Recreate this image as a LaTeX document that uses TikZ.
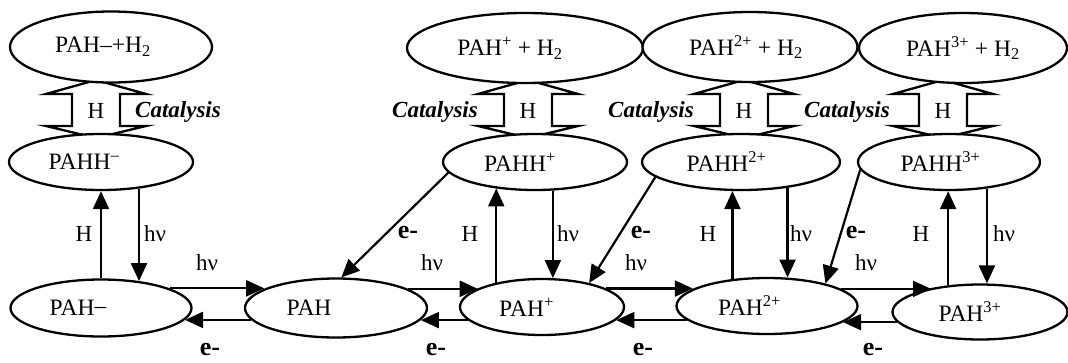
\documentclass[tikz,border=0pt]{standalone}
\usepackage{fontspec}
\setmainfont{Liberation Serif}
\usetikzlibrary{arrows.meta,shapes.geometric}

\tikzset{
  species/.style={draw, ellipse, line width=2.3pt, fill=white, inner sep=0pt,
    font=\fontsize{23.5}{26}\selectfont},
  arr/.style={line width=2.2pt, -{Triangle[length=18pt,width=16pt]}},
  lbl/.style={font=\fontsize{23}{26}\selectfont, inner sep=0pt},
  elbl/.style={font=\fontsize{26}{28}\selectfont\bfseries, inner sep=0pt},
  cat/.style={font=\fontsize{23}{26}\selectfont\bfseries\itshape, inner sep=0pt},
  dbl/.pic={
    \draw[line width=2.3pt, line join=miter]
      (0,-31) -- (-50,-17) -- (-24,-17) -- (-24,15) -- (-50,15) -- (0,27)
      -- (50,15) -- (24,15) -- (24,-17) -- (50,-17) -- cycle;
  }
}
\newcommand{\pad}[1]{\hspace*{#1pt}}

\begin{document}
\begin{tikzpicture}[x=1pt,y=-1pt]
\useasboundingbox (0,0) rectangle (1068,362);

% hollow double arrows (hydrogenation / catalysis)
\coordinate (k0) at (96,111);
\coordinate (k1) at (528,111);
\coordinate (k2) at (744,111);
\coordinate (k3) at (943,111);
\pic at (k0) {dbl};
\pic at (k1) {dbl};
\pic at (k2) {dbl};
\pic at (k3) {dbl};

% top row
\node[species, minimum width=202pt, minimum height=71pt] (t0) at (111,47) {PAH–+H\textsubscript{2}\pad{16}};
\node[species, minimum width=236pt, minimum height=70pt] (t1) at (525,48) {PAH\textsuperscript{+} + H\textsubscript{2}\pad{30}};
\node[species, minimum width=215pt, minimum height=70pt] (t2) at (750,47) {PAH\textsuperscript{2+} + H\textsubscript{2}\pad{8}};
\node[species, minimum width=208pt, minimum height=70pt] (t3) at (963,48) {PAH\textsuperscript{3+} + H\textsubscript{2}};

% middle row
\node[species, minimum width=184pt, minimum height=56pt] (m0) at (101,162) {PAHH\textsuperscript{–}\pad{34}};
\node[species, minimum width=184pt, minimum height=56pt] (m1) at (535,162) {PAHH\textsuperscript{+}\pad{30}};
\node[species, minimum width=198pt, minimum height=56pt] (m2) at (741,162) {PAHH\textsuperscript{2+}\pad{29}};
\node[species, minimum width=182pt, minimum height=56pt] (m3) at (949,162) {PAHH\textsuperscript{3+}\pad{17}};

% bottom row
\node[species, minimum width=181pt, minimum height=57pt] (b0) at (101,308) {PAH\raisebox{2pt}{–}\pad{46}};
\node[species, minimum width=182pt, minimum height=59pt] (b1) at (336,308) {PAH\pad{54}};
\node[species, minimum width=164pt, minimum height=56pt] (b2) at (542,307) {PAH\textsuperscript{+}\pad{31}};
\node[species, minimum width=181pt, minimum height=56pt] (b3) at (767,306) {PAH\textsuperscript{2+}\pad{35}};
\node[species, minimum width=175pt, minimum height=55pt] (b4) at (980,312) {PAH\textsuperscript{3+}\pad{20}};

% labels on the double arrows
\node[lbl] (hk0) at (k0) {H};
\node[lbl] (hk1) at (k1) {H};
\node[lbl] (hk2) at (k2) {H};
\node[lbl] (hk3) at (k3) {H};
\node[cat] (c0) at (178,112) {Catalysis};
\node[cat] (c1) at (435,112) {Catalysis};
\node[cat] (c2) at (651,112) {Catalysis};
\node[cat] (c3) at (847,112) {Catalysis};

% hydrogenation (up) and photolysis (down)
\draw[arr] (b0.north) -- (b0.north |- m0.south);
\draw[arr] (m0.-35) -- (m0.-35 |- b0.35);
\draw[arr] (b2.152) -- (b2.152 |- m1.214);
\draw[arr] (m1.-58) -- (m1.-58 |- b2.70);
\draw[arr] (b3.142) -- (b3.142 |- m2.256);
\draw[arr] (m2.-29) -- (m2.-29 |- b3.55);
\draw[arr] (b4.140) -- (b4.140 |- m3.south);
\draw[arr] (m3.-35) -- (m3.-35 |- b4.78);

% electron recombination of hydrogenated cations
\draw[arr] (m1.187) -- (b1.80);
\draw[arr] (m2.190) -- (b2.27);
\draw[arr] (m3.185) -- (b3.21);

% ionisation (forward) and recombination (back)
\draw[arr] (b0.16) -- (b0.16 -| b1.165);
\draw[arr] (b1.188) -- (b1.188 -| b0.-8);
\draw[arr] (b1.15) -- (b1.15 -| b2.164);
\draw[arr] (b2.190) -- (b2.190 -| b1.-8);
\draw[arr] (b2.16) -- (b2.16 -| b3.167);
\draw[arr] (b3.190) -- (b3.190 -| b2.-10);
\draw[arr] (b3.13) -- (b3.13 -| b4.154);
\draw[arr] (b4.187) -- (b4.187 -| b3.-12);

% vertical labels
\node[lbl] (lh0) at (84,234) {H};
\node[lbl] (lh1) at (470,234) {H};
\node[lbl] (lh2) at (708,234) {H};
\node[lbl] (lh3) at (921,234) {H};
\node[lbl] (lv0) at (155,234) {hν};
\node[lbl] (lv1) at (568,234) {hν};
\node[lbl] (lv2) at (801,234) {hν};
\node[lbl] (lv3) at (1004,234) {hν};
% diagonal labels
\node[elbl] (ld1) at (408,233) {e-};
\node[elbl] (ld2) at (641,233) {e-};
\node[elbl] (ld3) at (856,233) {e-};
% horizontal labels
\node[lbl] (lf0) at (207,263) {hν};
\node[lbl] (lf1) at (432,263) {hν};
\node[lbl] (lf2) at (636,263) {hν};
\node[lbl] (lf3) at (866,263) {hν};
\node[elbl] (lr0) at (210,350) {e-};
\node[elbl] (lr1) at (436,350) {e-};
\node[elbl] (lr2) at (643,350) {e-};
\node[elbl] (lr3) at (873,350) {e-};
\end{tikzpicture}
\end{document}
